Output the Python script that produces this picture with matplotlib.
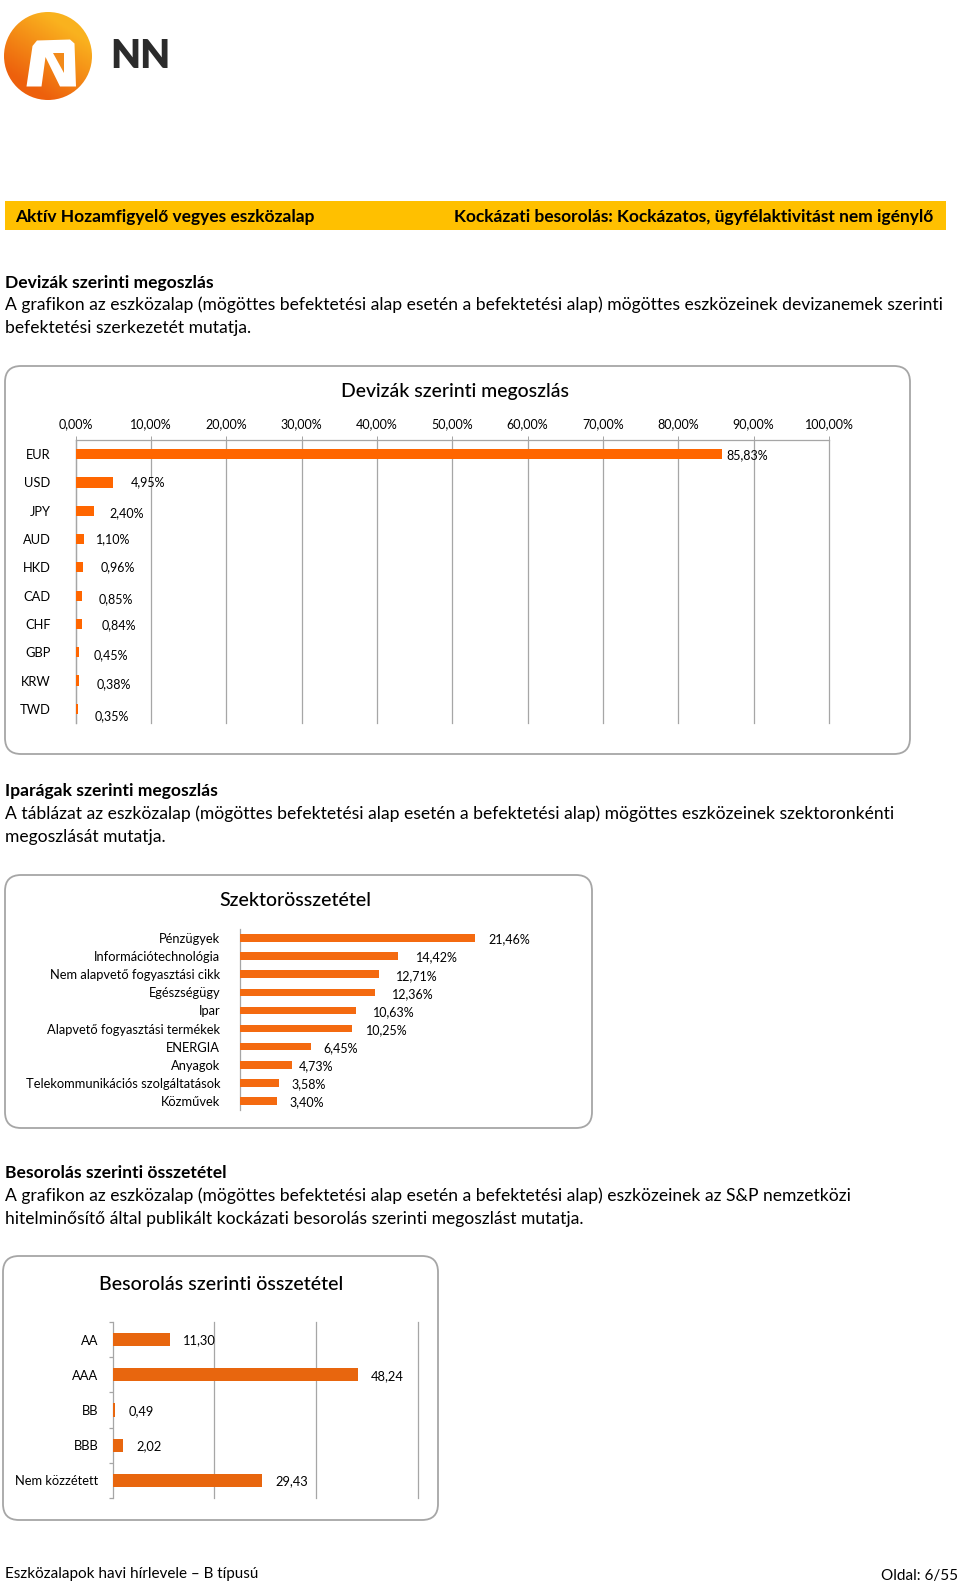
import matplotlib
matplotlib.use("Agg")
import matplotlib.pyplot as plt
import numpy as np
from matplotlib.patches import FancyBboxPatch, Rectangle, Circle, Polygon
from matplotlib.transforms import IdentityTransform

# ---------------- data ----------------
currencies = ['EUR', 'USD', 'JPY', 'AUD', 'HKD', 'CAD', 'CHF', 'GBP', 'KRW', 'TWD']
currency_vals = [85.83, 4.95, 2.40, 1.10, 0.96, 0.85, 0.84, 0.45, 0.38, 0.35]
currency_ticks = [0, 10, 20, 30, 40, 50, 60, 70, 80, 90, 100]

sectors = ['Pénzügyek', 'Információtechnológia', 'Nem alapvető fogyasztási cikk',
           'Egészségügy', 'Ipar', 'Alapvető fogyasztási termékek', 'ENERGIA',
           'Anyagok', 'Telekommunikációs szolgáltatások', 'Közművek']
sector_vals = [21.46, 14.42, 12.71, 12.36, 10.63, 10.25, 6.45, 4.73, 3.58, 3.40]

ratings = ['AA', 'AAA', 'BB', 'BBB', 'Nem közzétett']
rating_vals = [11.30, 48.24, 0.49, 2.02, 29.43]

# ---------------- layout helpers ----------------
W, H, DPI = 960, 1586, 100
plt.rcParams['font.family'] = ['Lato', 'DejaVu Sans']
fig = plt.figure(figsize=(W / DPI, H / DPI), dpi=DPI)
fig.patch.set_facecolor('white')
renderer = fig.canvas.get_renderer()

GRAY = '#A6A6A6'
PX = 72.0 / DPI  # points per pixel


def txt(x, y, s, size=12, ha='left', va='center', weight='normal', color='black', **kw):
    return fig.text(x / W, 1 - y / H, s, fontsize=size, ha=ha, va=va,
                    fontweight=weight, color=color, **kw)


def fit(t, target_w):
    w = t.get_window_extent(renderer).width
    t.set_fontsize(t.get_fontsize() * target_w / w)
    return t.get_fontsize()


def ax_px(x0, y0, x1, y1):
    a = fig.add_axes([x0 / W, 1 - y1 / H, (x1 - x0) / W, (y1 - y0) / H])
    a.set_facecolor('none')
    return a


def rbox(x0, y0, x1, y1, r=14):
    p = FancyBboxPatch((x0, H - y1), x1 - x0, y1 - y0,
                       boxstyle=f"round,pad=0,rounding_size={r}",
                       transform=IdentityTransform(), fill=False,
                       ec=GRAY, lw=1.3, zorder=5)
    fig.add_artist(p)


def pct(v):
    return f"{v:.2f}%".replace('.', ',')


def num(v):
    return f"{v:.2f}".replace('.', ',')


# ---------------- logo ----------------
axl = fig.add_axes([0, 1 - 110 / H, 110 / W, 110 / H])
axl.set_xlim(0, 110)
axl.set_ylim(110, 0)
axl.axis('off')
X, Y = np.meshgrid(np.linspace(0, 110, 220), np.linspace(0, 110, 220))
t = np.clip(((X - 48) * 0.55 - (Y - 56) * 0.85) / 70 + 0.5, 0, 1)
c0 = np.array([0.93, 0.38, 0.05])
c1 = np.array([0.98, 0.70, 0.12])
img = c0[None, None, :] * (1 - t[..., None]) + c1[None, None, :] * t[..., None]
im = axl.imshow(img, extent=(0, 110, 110, 0), interpolation='bilinear')
circ = Circle((48, 56), 44, transform=axl.transData, fc='none', ec='none')
axl.add_patch(circ)
im.set_clip_path(circ)
n_shape = [(26.5, 86.5), (32.5, 46), (37, 40.5), (70, 39.5), (74.5, 43.5),
           (76, 86.5), (60, 86.5), (45.5, 57), (41.5, 86.5)]
axl.add_patch(Polygon(n_shape, closed=True, fc='white', ec='none'))
axl.add_patch(Polygon([(53, 53), (64, 53), (64, 73)], closed=True,
                      fc='#F28A1A', ec='none'))
tn = txt(110, 57, 'NN', size=28, weight='heavy', color='#2B2B2B')
fit(tn, 60)

# ---------------- header bar ----------------
fig.add_artist(Rectangle((5, H - 230), 941, 29, transform=IdentityTransform(),
                         fc='#FFC000', ec='none', zorder=0))
th = txt(15, 217, 'Aktív Hozamfigyelő vegyes eszközalap', size=12, weight='bold')
hs = fit(th, 298)
txt(933, 217, 'Kockázati besorolás: Kockázatos, ügyfélaktivitást nem igénylő',
    size=hs, weight='bold', ha='right')

# ---------------- body text ----------------
tb = txt(5, 305, 'A grafikon az eszközalap (mögöttes befektetési alap esetén a befektetési alap) '
                 'mögöttes eszközeinek devizanemek szerinti', size=12)
bs = fit(tb, 933)
tg = txt(5, 283, 'Devizák szerinti megoszlás', size=12, weight='bold')
gs = fit(tg, 206)
txt(5, 328, 'befektetési szerkezetét mutatja.', size=bs)

txt(5, 791, 'Iparágak szerinti megoszlás', size=gs, weight='bold')
txt(5, 814, 'A táblázat az eszközalap (mögöttes befektetési alap esetén a befektetési alap) '
            'mögöttes eszközeinek szektoronkénti', size=bs)
txt(5, 837, 'megoszlását mutatja.', size=bs)

txt(5, 1173, 'Besorolás szerinti összetétel', size=gs, weight='bold')
txt(5, 1196, 'A grafikon az eszközalap (mögöttes befektetési alap esetén a befektetési alap) '
             'eszközeinek az S&P nemzetközi', size=bs)
txt(5, 1219, 'hitelminősítő által publikált kockázati besorolás szerinti megoszlást mutatja.',
    size=bs)

tf = txt(5, 1574, 'Eszközalapok havi hírlevele – B típusú', size=11)
fs = fit(tf, 254)
txt(958, 1576, 'Oldal: 6/55', size=fs, ha='right')

# ---------------- chart 1: currencies ----------------
rbox(5, 366, 910, 754, r=16)
t1 = txt(455, 392, 'Devizák szerinti megoszlás', size=14, ha='center', weight='medium')
fit(t1, 229)

ax1 = ax_px(75.7, 440, 829, 723)
yy = np.arange(len(currencies))
ax1.barh(yy, currency_vals, height=0.36, color='#FF6600', zorder=3)
ax1.set_xlim(currency_ticks[0], currency_ticks[-1])
ax1.set_ylim(len(currencies) - 0.5, -0.5)
ax1.set_xticks(currency_ticks)
ax1.set_xticklabels([pct(v) for v in currency_ticks])
ax1.xaxis.tick_top()
ax1.set_yticks(yy)
ax1.set_yticklabels(currencies)
ax1.tick_params(axis='x', top=True, bottom=False, length=3, width=0.72, color=GRAY,
                labelsize=9, pad=4)
ax1.tick_params(axis='y', length=0, labelsize=9.3, pad=25 * PX)
ax1.grid(axis='x', color=GRAY, lw=0.9, zorder=0)
for gl in ax1.get_xgridlines():
    gl.set_clip_on(False)
for s in ['right', 'bottom']:
    ax1.spines[s].set_visible(False)
for s in ['top', 'left']:
    ax1.spines[s].set_color(GRAY)
    ax1.spines[s].set_linewidth(0.9)
lab_dx1 = [4, 18, 16, 12, 18, 17, 20, 15, 18, 16]
lab_dy1 = [1, 0, 2, 0, 0, 4, 1, 3, 4, 7]
for i, v in enumerate(currency_vals):
    ax1.annotate(pct(v), xy=(v, i), xytext=(lab_dx1[i] * PX, -lab_dy1[i] * PX),
                 textcoords='offset points', ha='left', va='center', fontsize=9,
                 zorder=6)

# ---------------- chart 2: sectors ----------------
rbox(5, 875, 592, 1128, r=16)
t2 = txt(295, 901, 'Szektorösszetétel', size=14, ha='center', weight='medium')
fit(t2, 152)

ax2 = ax_px(240, 929, 568.5, 1110)
y2 = np.arange(len(sectors))
ax2.barh(y2, sector_vals, height=0.42, color='#F46A10', zorder=3)
ax2.set_xlim(0, 30)
ax2.set_ylim(len(sectors) - 0.5, -0.5)
ax2.set_xticks([])
ax2.set_yticks(y2)
ax2.set_yticklabels(sectors)
ax2.tick_params(axis='y', length=0, labelsize=9.3, pad=20 * PX)
for s in ['right', 'bottom', 'top']:
    ax2.spines[s].set_visible(False)
ax2.spines['left'].set_color(GRAY)
ax2.spines['left'].set_linewidth(0.9)
lab_dx2 = [13, 18, 17, 17, 17, 14, 13, 7, 12, 12.5]
for i, v in enumerate(sector_vals):
    ax2.annotate(pct(v), xy=(v, i), xytext=(lab_dx2[i] * PX, -1.5 * PX),
                 textcoords='offset points', ha='left', va='center', fontsize=9)

# ---------------- chart 3: ratings ----------------
rbox(3, 1256, 438, 1520, r=16)
t3 = txt(221, 1285, 'Besorolás szerinti összetétel', size=15, ha='center', weight='medium')
fit(t3, 245)

ax3 = ax_px(112.7, 1322, 418, 1498)
y3 = np.arange(len(ratings))
ax3.barh(y3, rating_vals, height=0.38, color='#E8660E', zorder=3)
ax3.set_xlim(0, 60)
ax3.set_ylim(len(ratings) - 0.5, -0.5)
ax3.set_xticks([20, 40, 60])
ax3.tick_params(axis='x', length=0, labelbottom=False)
ax3.grid(axis='x', color=GRAY, lw=0.9, zorder=0)
for gl in ax3.get_xgridlines():
    gl.set_clip_on(False)
ax3.set_yticks(y3)
ax3.set_yticklabels(ratings)
ax3.set_yticks(np.arange(len(ratings) + 1) - 0.5, minor=True)
ax3.tick_params(axis='y', which='major', length=0, labelsize=9.3, pad=14 * PX)
ax3.tick_params(axis='y', which='minor', length=4 * PX, width=0.9, color=GRAY)
for s in ['right', 'bottom', 'top']:
    ax3.spines[s].set_visible(False)
ax3.spines['left'].set_color(GRAY)
ax3.spines['left'].set_linewidth(0.9)
for i, v in enumerate(rating_vals):
    ax3.annotate(num(v), xy=(v, i), xytext=(13 * PX, -1 * PX),
                 textcoords='offset points', ha='left', va='center', fontsize=9.3)

fig.savefig('out.png', dpi=DPI, facecolor='white')
